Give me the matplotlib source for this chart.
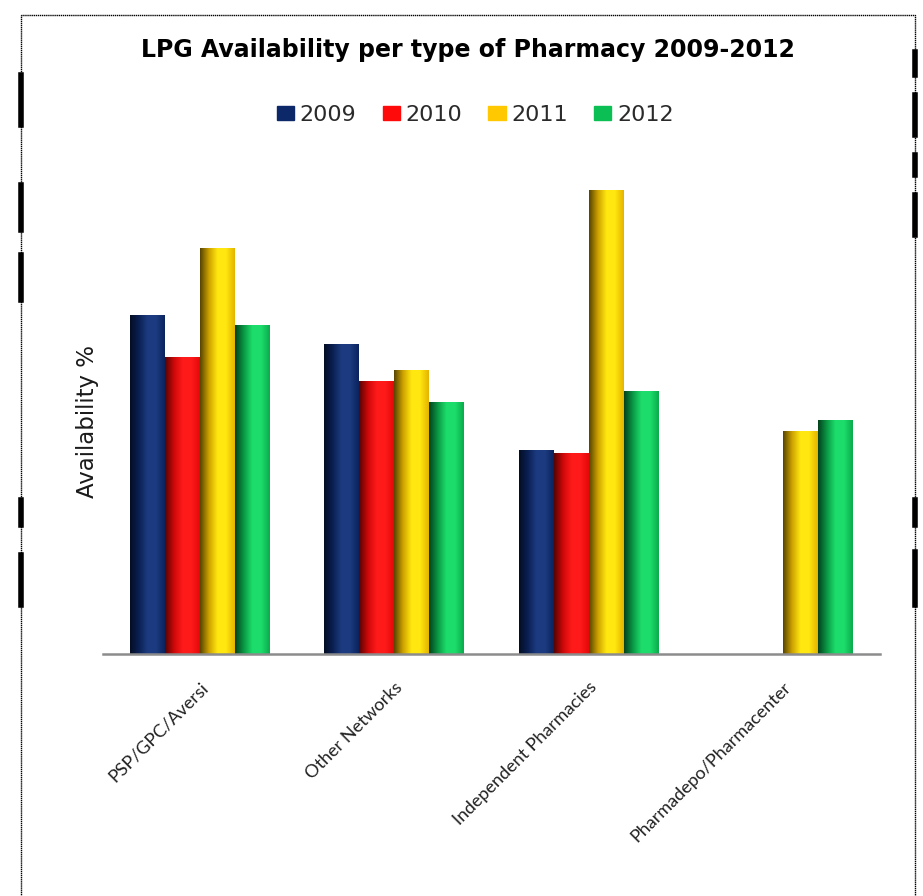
import numpy as np
import matplotlib.pyplot as plt
from matplotlib.colors import LinearSegmentedColormap, to_rgb
from matplotlib.lines import Line2D

categories = ["PSP/GPC/Aversi", "Other Networks", "Independent Pharmacies",
              "Pharmadepo/Pharmacenter"]
years = ["2009", "2010", "2011", "2012"]
# availability % (no values shown on the chart)
v2009 = [33.9, 31.0, 20.4, 0.0]
v2010 = [29.7, 27.3, 20.1, 0.0]
v2011 = [40.6, 28.4, 46.4, 22.3]
v2012 = [32.9, 25.2, 26.3, 23.4]
series = [v2009, v2010, v2011, v2012]
colors = ["#0C2868", "#FF0A0A", "#FFC800", "#0CBF55"]


def shade_cmap(c):
    r = np.array(to_rgb(c))
    dark = r * 0.35
    mid = r * 0.8
    light = np.clip(r * 1.08 + 0.06, 0, 1)
    return LinearSegmentedColormap.from_list("s", [dark, mid, light, light, r * 0.9])


fig = plt.figure(figsize=(9.23, 8.96), dpi=100)
ax = fig.add_axes([0.1116, 0.2701, 0.8418, 0.558])

x = np.arange(len(categories))
w = 0.18
grad = np.linspace(0, 1, 64).reshape(1, -1)
for i, (vals, c) in enumerate(zip(series, colors)):
    bars = ax.bar(x + (i - 1.5) * w, vals, width=w, color=c, linewidth=0, zorder=2)
    cm = shade_cmap(c)
    for b in bars:
        if b.get_height() <= 0:
            continue
        im = ax.imshow(grad, cmap=cm, aspect="auto", zorder=3,
                       extent=(b.get_x(), b.get_x() + b.get_width(), 0, b.get_height()))
        im.set_clip_path(b)

ax.set_xlim(-0.5, 3.5)
ax.set_ylim(0, 50)
ax.set_yticks([])
ax.set_xticks(x)
ax.set_xticklabels(categories, rotation=45, ha="right", va="top",
                   rotation_mode="anchor", fontsize=13, family="Lato",
                   color="#222222")
ax.tick_params(axis="x", length=0, pad=18)
for s in ["top", "right", "left"]:
    ax.spines[s].set_visible(False)
ax.spines["bottom"].set_color("#8c8c8c")
ax.spines["bottom"].set_linewidth(1.8)
ax.spines["bottom"].set_zorder(4)
ax.set_ylabel("Availability %", fontsize=16.5, family="DejaVu Sans", color="#1a1a1a")
ax.yaxis.set_label_coords(-0.005, 0.466)

fig.text(0.507, 0.944, "LPG Availability per type of Pharmacy 2009-2012",
         ha="center", va="center", fontsize=17, fontweight="bold")

handles = [plt.Rectangle((0, 0), 1, 1, color=c) for c in colors]
fig.legend(handles, years, loc="center", bbox_to_anchor=(0.515, 0.872), ncol=4,
           frameon=False, handlelength=0.77, handleheight=0.59,
           handletextpad=0.27, columnspacing=1.17, labelcolor="#2a2a2a",
           prop={"family": "DejaVu Sans", "size": 16})

# page frame with the heavy scan marks along the sides
fig.patches.append(plt.Rectangle((0.0228, -0.02), 0.9685, 1.003, transform=fig.transFigure,
                                 fill=False, edgecolor="black", linewidth=1.0,
                                 linestyle=(0, (1, 0.5))))
left_marks = [(75, 125), (185, 230), (255, 300), (500, 525), (555, 605)]
right_marks = [(52, 75), (95, 135), (155, 175), (195, 235), (500, 525), (552, 605)]
for xs, marks in [(21, left_marks), (915, right_marks)]:
    for y0, y1 in marks:
        fig.add_artist(Line2D([xs / 923, xs / 923], [1 - y0 / 896, 1 - y1 / 896],
                              color="black", linewidth=4, transform=fig.transFigure))

fig.savefig("out.png", dpi=100)
